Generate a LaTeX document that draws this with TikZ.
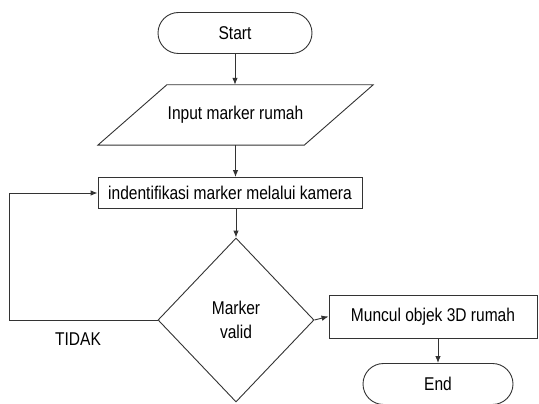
\documentclass[tikz,border=0pt]{standalone}
\usepackage{fontspec}
\setmainfont[FakeStretch=0.84]{Liberation Sans}
\usetikzlibrary{shapes.geometric,shapes.misc,arrows.meta}
\begin{document}
\begin{tikzpicture}[x=1pt, y=-1pt, font=\fontsize{18.5}{22}\selectfont, align=center,
    linie/.style={draw=black!80, line width=0.9pt},
    pfeil/.style={linie, -{Latex[length=7pt,width=5.5pt]}},
    terminal/.style={linie, rounded rectangle, minimum width=154pt, minimum height=41pt, inner sep=0pt},
    eingabe/.style={rectangle, minimum width=206pt, minimum height=60pt, inner sep=0pt},
    prozess/.style={linie, rectangle, inner sep=0pt},
    entscheidung/.style={linie, diamond, minimum width=156pt, minimum height=164pt, inner sep=0pt}]

        % Rahmen
        \useasboundingbox (0,0) rectangle (539,404);

        % Maße
        \def\links{9}      % x der Rückführung
        \def\schraeg{34.5} % halbe Schräge des Parallelogramms

        % Knoten
        \node[terminal] (start) at (235,33) {Start};
        \node[eingabe] (input) at (235.5,115) {Input marker rumah};
        \draw[linie] ([xshift=-\schraeg pt]input.south west) -- ([xshift=-\schraeg pt]input.south east)
            -- ([xshift=\schraeg pt]input.north east) -- ([xshift=\schraeg pt]input.north west) -- cycle;
        \node[prozess, minimum width=264pt, minimum height=31pt] (scan) at (230,193)
            {indentifikasi marker melalui kamera};
        \node[entscheidung] (check) at (236,320) {Marker\\[2pt]valid};
        \node[prozess, minimum width=208pt, minimum height=43pt] (show) at (433,316.5)
            {Muncul objek 3D rumah};
        \node[terminal, minimum width=150pt] (end) at (438,384) {End};
        \node (nein) at (78,339) {TIDAK};
        \coordinate (ruck) at (\links,320);

        % Verbindungen
        \draw[pfeil] (start.south) -- (start.south |- input.north);
        \draw[pfeil] (input.south) -- (input.south |- scan.north);
        \draw[pfeil] (scan.south -| check.north) -- (check.north);
        \draw[pfeil] (check.east) -- (show.west);
        \draw[pfeil] (show.south -| end.north) -- (end.north);
        \draw[pfeil] (check.west) -- (ruck) |- (scan.west);

    \end{tikzpicture}
\end{document}
